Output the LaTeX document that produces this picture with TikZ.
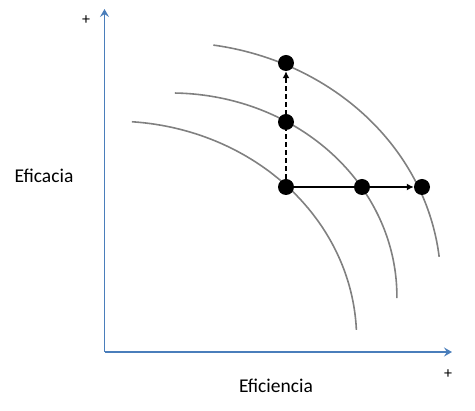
\documentclass[tikz,border=0pt]{standalone}
\usepackage{fontspec}
\setmainfont{Carlito}
\usetikzlibrary{arrows.meta}
\definecolor{axisblue}{HTML}{4A7EBB}
\definecolor{curvegray}{HTML}{808080}
\tikzset{
  axisline/.style={draw=axisblue, line width=1.5pt, -{Stealth[length=8pt,width=9pt,inset=3pt]}},
  curveline/.style={draw=curvegray, line width=1.6pt},
  dot/.style={circle, fill=black, inner sep=0pt, minimum size=16pt},
  movearrow/.style={draw=black, line width=2pt, -{Latex[length=7pt,width=7pt]}},
  lbl/.style={font=\fontsize{19.5}{23}\selectfont, inner sep=0pt},
  plus/.style={font=\fontsize{16}{18}\selectfont, inner sep=0pt}
}
\begin{document}
\begin{tikzpicture}[x=1pt,y=-1pt]
\useasboundingbox (0,0) rectangle (475,411);
% axes
\coordinate (O) at (104.5,352);
\coordinate (ytop) at (104.5,9);
\coordinate (xend) at (452,352);
\draw[axisline] (O) -- (ytop);
\draw[axisline] (O) -- (xend);
% curves (elliptical arcs)
\draw[curveline] plot[domain=6.35:81.3, samples=120, variable=\t] ({172.8+268*cos(\t)}, {283.5-241.2*sin(\t)});
\draw[curveline] plot[domain=-0.5:89, samples=120, variable=\t] ({170.9+226*cos(\t)}, {296.4-203.4*sin(\t)});
\draw[curveline] plot[domain=2.4:85.9, samples=120, variable=\t] ({114.6+242*cos(\t)}, {339-217.8*sin(\t)});
% dots
\node[dot] (a) at (286,187) {};
\node[dot] (b) at (286,122) {};
\node[dot] (c) at (286,63) {};
\node[dot] (d) at (362,187) {};
\node[dot] (e) at (422,187) {};
% arrows
\draw[movearrow, dash pattern=on 5pt off 3pt] (a) -- (c);
\draw[movearrow] (a) -- (e);
% labels
\node[lbl] (eficacia) at (44,176) {Eficacia};
\node[lbl] (eficiencia) at (276,386) {Eficiencia};
\node[plus] (py) at (86,20) {+};
\node[plus] (px) at (448,374) {+};
\end{tikzpicture}
\end{document}
